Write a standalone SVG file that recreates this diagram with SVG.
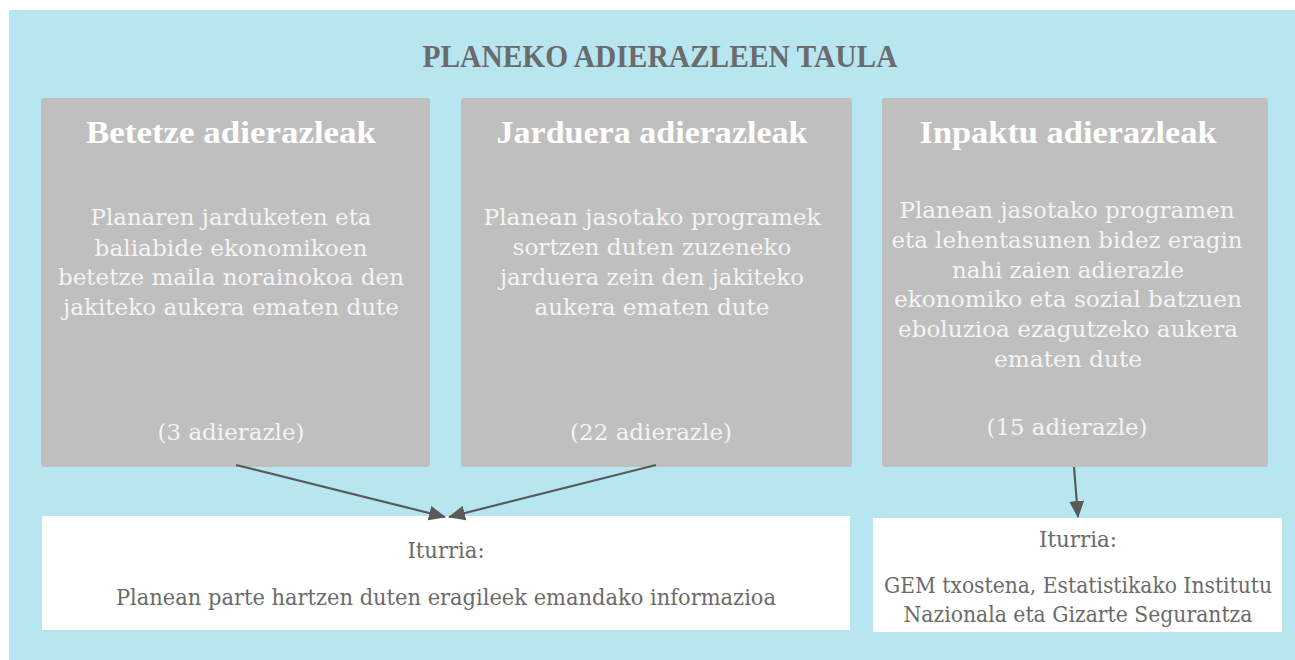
<svg xmlns="http://www.w3.org/2000/svg" width="1295" height="660" viewBox="0 0 1295 660">
<style>
.bg{fill:#b7e6f1}
.card{fill:#bfbfbf}
.src{fill:#ffffff}
.main{font-family:"Liberation Serif",serif;font-weight:bold;font-size:32px;fill:#6b6b6b;text-anchor:middle}
.ttl{font-family:"Liberation Serif",serif;font-weight:bold;font-size:32px;fill:#ffffff;text-anchor:middle}
.body{font-family:"DejaVu Serif",serif;font-size:23px;fill:#f4f4f4;text-anchor:middle}
.stxt{font-family:"DejaVu Serif",serif;font-size:22px;fill:#6b6b6b;text-anchor:middle}
.conn{stroke:#5a5a5a;stroke-width:2.2;fill:none}
</style>
<defs>
<marker id="ah" markerUnits="userSpaceOnUse" markerWidth="17" markerHeight="15" refX="16" refY="7.5" orient="auto">
<path d="M0,0 L17,7.5 L0,15 Z" fill="#5a5a5a"/>
</marker>
</defs>
<rect class="bg" x="9" y="10" width="1286" height="650"/>
<text class="main" x="660" y="67" textLength="475" lengthAdjust="spacingAndGlyphs">PLANEKO ADIERAZLEEN TAULA</text>

<g id="betetze">
<rect class="card" x="41" y="98" width="389" height="369" rx="3"/>
<text class="ttl" x="231" y="143" textLength="290" lengthAdjust="spacingAndGlyphs">Betetze adierazleak</text>
<text class="body" x="231" y="225" textLength="281" lengthAdjust="spacingAndGlyphs">Planaren jarduketen eta</text>
<text class="body" x="231" y="256" textLength="273" lengthAdjust="spacingAndGlyphs">baliabide ekonomikoen</text>
<text class="body" x="231" y="285" textLength="346" lengthAdjust="spacingAndGlyphs">betetze maila norainokoa den</text>
<text class="body" x="231" y="315" textLength="336" lengthAdjust="spacingAndGlyphs">jakiteko aukera ematen dute</text>
<text class="body" x="231" y="440" textLength="147" lengthAdjust="spacingAndGlyphs">(3 adierazle)</text>
</g>

<g id="jarduera">
<rect class="card" x="461" y="98" width="391" height="369" rx="3"/>
<text class="ttl" x="652" y="143" textLength="311" lengthAdjust="spacingAndGlyphs">Jarduera  adierazleak</text>
<text class="body" x="652" y="225" textLength="337" lengthAdjust="spacingAndGlyphs">Planean jasotako programek</text>
<text class="body" x="652" y="255" textLength="279" lengthAdjust="spacingAndGlyphs">sortzen duten zuzeneko</text>
<text class="body" x="652" y="285" textLength="304" lengthAdjust="spacingAndGlyphs">jarduera zein den jakiteko</text>
<text class="body" x="652" y="315" textLength="235" lengthAdjust="spacingAndGlyphs">aukera ematen dute</text>
<text class="body" x="651" y="440" textLength="162" lengthAdjust="spacingAndGlyphs">(22 adierazle)</text>
</g>

<g id="inpaktu">
<rect class="card" x="882" y="98" width="386" height="369" rx="3"/>
<text class="ttl" x="1068" y="143" textLength="297" lengthAdjust="spacingAndGlyphs">Inpaktu adierazleak</text>
<text class="body" x="1067" y="218" textLength="335" lengthAdjust="spacingAndGlyphs">Planean jasotako programen</text>
<text class="body" x="1067" y="248" textLength="351" lengthAdjust="spacingAndGlyphs">eta lehentasunen bidez eragin</text>
<text class="body" x="1068" y="278" textLength="232" lengthAdjust="spacingAndGlyphs">nahi zaien adierazle</text>
<text class="body" x="1068" y="307" textLength="348" lengthAdjust="spacingAndGlyphs">ekonomiko eta sozial batzuen</text>
<text class="body" x="1068" y="337" textLength="340" lengthAdjust="spacingAndGlyphs">eboluzioa ezagutzeko aukera</text>
<text class="body" x="1068" y="367" textLength="148" lengthAdjust="spacingAndGlyphs">ematen dute</text>
<text class="body" x="1067" y="435" textLength="161" lengthAdjust="spacingAndGlyphs">(15 adierazle)</text>
</g>

<g id="iturria1">
<rect class="src" x="42" y="516" width="808" height="114"/>
<text class="stxt" x="446" y="558" textLength="77" lengthAdjust="spacingAndGlyphs">Iturria:</text>
<text class="stxt" x="446" y="605" textLength="660" lengthAdjust="spacingAndGlyphs">Planean parte hartzen duten eragileek emandako informazioa</text>
</g>

<g id="iturria2">
<rect class="src" x="873" y="518" width="409" height="114"/>
<text class="stxt" x="1078" y="547" textLength="78" lengthAdjust="spacingAndGlyphs">Iturria:</text>
<text class="stxt" x="1078" y="593" textLength="388" lengthAdjust="spacingAndGlyphs">GEM txostena, Estatistikako Institutu</text>
<text class="stxt" x="1078" y="622" textLength="349" lengthAdjust="spacingAndGlyphs">Nazionala eta Gizarte Segurantza</text>
</g>

<g id="connectors">
<path class="conn" d="M236,465 L445,517" marker-end="url(#ah)"/>
<path class="conn" d="M656,465 L449,517" marker-end="url(#ah)"/>
<path class="conn" d="M1074,467 L1078,517" marker-end="url(#ah)"/>
</g>
</svg>
